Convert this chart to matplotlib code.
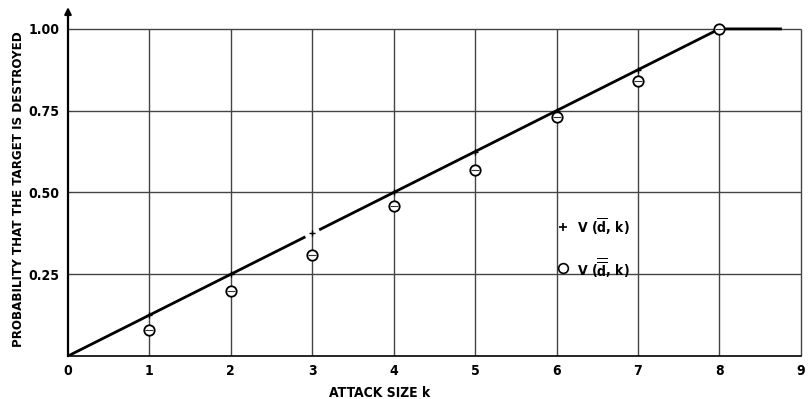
import matplotlib
matplotlib.use("Agg")
import matplotlib.pyplot as plt
from matplotlib import font_manager as fm

# Data
attack_sizes = [1, 2, 3, 4, 5, 6, 7, 8]
v_dbar = [k / 8 for k in attack_sizes]          # + markers, on the line
v_ddbar = [0.08, 0.20, 0.31, 0.46, 0.57, 0.73, 0.84, 1.00]  # circles
line_x = [0, 8, 8.75]
line_y = [0, 1.0, 1.0]
x_ticks = list(range(0, 10))
y_ticks = [0.25, 0.50, 0.75, 1.00]
y_tick_labels = ["0.25", "0.50", "0.75", "1.00"]

fam = "DejaVu Sans"
for f in fm.fontManager.ttflist:
    if f.name == "Liberation Sans Narrow":
        fam = "Liberation Sans Narrow"
        break
plt.rcParams["font.family"] = [fam, "DejaVu Sans"]
plt.rcParams["font.stretch"] = "condensed"
plt.rcParams["mathtext.fontset"] = "custom"
plt.rcParams["mathtext.rm"] = fam + ":bold"
plt.rcParams["mathtext.it"] = fam + ":bold"
plt.rcParams["mathtext.bf"] = fam + ":bold"

fig = plt.figure(figsize=(8.09, 3.99), dpi=100)
ax = fig.add_axes([68 / 809, 43 / 399, (809 - 68) / 809, (356 - 6) / 399])
ax.set_xlim(0, 9.1)
ax.set_ylim(0, 1.07)

gc = "#444444"
ax.vlines(x_ticks[1:], 0, 1.0, color=gc, lw=1.0)
ax.hlines(y_ticks, 0, 9, color=gc, lw=1.0)

for s in ["top", "right"]:
    ax.spines[s].set_visible(False)
ax.spines["left"].set_bounds(0, 1.05)
ax.spines["bottom"].set_bounds(0, 9)
ax.spines["left"].set_linewidth(1.6)
ax.spines["bottom"].set_linewidth(1.2)
ax.annotate("", xy=(0, 1.075), xytext=(0, 1.02),
            arrowprops=dict(arrowstyle="-|>", color="black", lw=1.5,
                            mutation_scale=10),
            annotation_clip=False)

ax.plot(line_x[:1] + [2.9], [0, 2.9 / 8], color="black", lw=2.0, zorder=3)
ax.plot([3.1] + line_x[1:], [3.1 / 8] + line_y[1:], color="black", lw=2.0, zorder=3)
ax.plot(attack_sizes, v_dbar, linestyle="none", marker="+", color="black",
        markersize=5, mew=1.0, zorder=4)
ax.plot(attack_sizes, v_ddbar, linestyle="none", marker="o", mfc="white",
        mec="black", markersize=7.5, mew=1.3, zorder=5)
ax.plot(attack_sizes, v_ddbar, linestyle="none", marker="_", color="#333333",
        markersize=6, mew=0.8, zorder=6)

ax.set_xticks(x_ticks)
ax.set_xticklabels([str(t) for t in x_ticks], fontsize=10, fontweight="bold")
ax.set_yticks(y_ticks)
ax.set_yticklabels(y_tick_labels, fontsize=10, fontweight="bold")
ax.tick_params(length=0, pad=6)

ax.set_xlabel("ATTACK SIZE k", fontsize=10, fontweight="bold")
ax.xaxis.set_label_coords((380 - 68) / 741, -0.085)
ax.set_ylabel("PROBABILITY THAT THE TARGET IS DESTROYED", fontsize=9.5,
              fontweight="bold")
ax.yaxis.set_label_coords(-(68 - 25) / 741, (356 - 189) / 350)

# Legend as text
ax.plot([6.08], [0.395], marker="+", color="black", markersize=6, mew=1.2,
        linestyle="none")
ax.text(6.25, 0.395, r"V ($\overline{\mathrm{d}}$, k)", fontsize=10,
        fontweight="bold", va="center", ha="left")
ax.plot([6.08], [0.27], marker="o", mfc="white", mec="black", markersize=7,
        mew=1.2, linestyle="none")
ax.text(6.25, 0.27, r"V ($\overline{\overline{\mathrm{d}}}$, k)", fontsize=10,
        fontweight="bold", va="center", ha="left")

fig.savefig("out.png", dpi=100)
